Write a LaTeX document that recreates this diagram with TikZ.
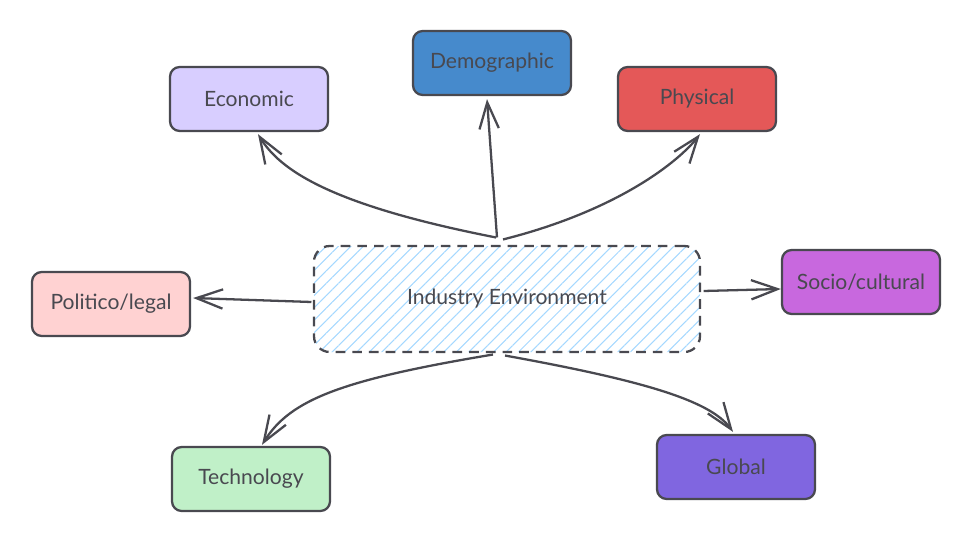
\documentclass[tikz,border=0pt]{standalone}
\usepackage{xcolor}
\usepackage{tikz}
\usepackage{fontspec}
\setmainfont{Lato}
\usetikzlibrary{arrows.meta,positioning,patterns.meta,calc}
\definecolor{ink}{RGB}{73,73,80}
\definecolor{hatch}{RGB}{165,216,255}
\definecolor{economic}{RGB}{216,206,255}
\definecolor{demographic}{RGB}{70,138,204}
\definecolor{physical}{RGB}{228,88,88}
\definecolor{politico}{RGB}{255,210,210}
\definecolor{socio}{RGB}{200,104,222}
\definecolor{technology}{RGB}{192,240,200}
\definecolor{global}{RGB}{128,102,224}

\begin{document}
\begin{tikzpicture}[
    factor/.style={rectangle, draw=ink, line width=1.3pt, text=ink, minimum width=3.16cm, minimum height=1.28cm, rounded corners=5.5pt, font=\large},
    hub/.style={rectangle, draw=ink, line width=1.3pt, dash pattern=on 5.5pt off 4pt, text=ink, minimum width=7.72cm, minimum height=2.12cm, rounded corners=9pt, font=\large, pattern={Lines[angle=45,distance=5pt,line width=0.6pt]}, pattern color=hatch},
    arrow/.style={-{Straight Barb[length=15pt,width=11pt,line width=1.3pt]}, draw=ink, line width=1.3pt}
]
    \useasboundingbox (0,0) rectangle (19.3,10.7);
    \node[hub] (env) at (10.14,4.72) {Industry Environment};
    \node[factor, fill=economic] (economic) at (4.98,8.72) {Economic};
    \node[factor, fill=demographic] (demographic) at (9.84,9.44) {Demographic};
    \node[factor, fill=physical] (physical) at (13.94,8.72) {Physical};
    \node[factor, fill=politico] (politico) at (2.22,4.62) {Politico/legal};
    \node[factor, fill=socio] (socio) at (17.22,5.06) {Socio/cultural};
    \node[factor, fill=technology] (technology) at (5.02,1.12) {Technology};
    \node[factor, fill=global] (global) at (14.72,1.36) {Global};

    \draw[arrow] ($(env.north)+(-0.22,0.16)$) .. controls (6.6,6.6) and (5.6,7.3) .. ($(economic.south)+(0.18,-0.04)$);
    \draw[arrow] ($(env.north)+(-0.2,0.16)$) -- ($(demographic.south)+(-0.1,-0.06)$);
    \draw[arrow] ($(env.north)+(-0.08,0.12)$) .. controls (12.4,6.5) and (13.6,7.5) .. ($(physical.south)+(0.06,-0.04)$);
    \draw[arrow] ($(env.east)+(0.06,0.16)$) -- ($(socio.west)+(0,-0.14)$);
    \draw[arrow] ($(env.west)+(-0.04,-0.06)$) -- ($(politico.east)+(0.04,0.12)$);
    \draw[arrow] ($(env.south)+(-0.28,-0.04)$) .. controls (6.8,3.1) and (5.8,2.7) .. ($(technology.north)+(0.22,0.02)$);
    \draw[arrow] ($(env.south)+(-0.04,-0.06)$) .. controls (12.8,3.1) and (14.2,2.7) .. ($(global.north)+(-0.06,0.04)$);
\end{tikzpicture}
\end{document}
